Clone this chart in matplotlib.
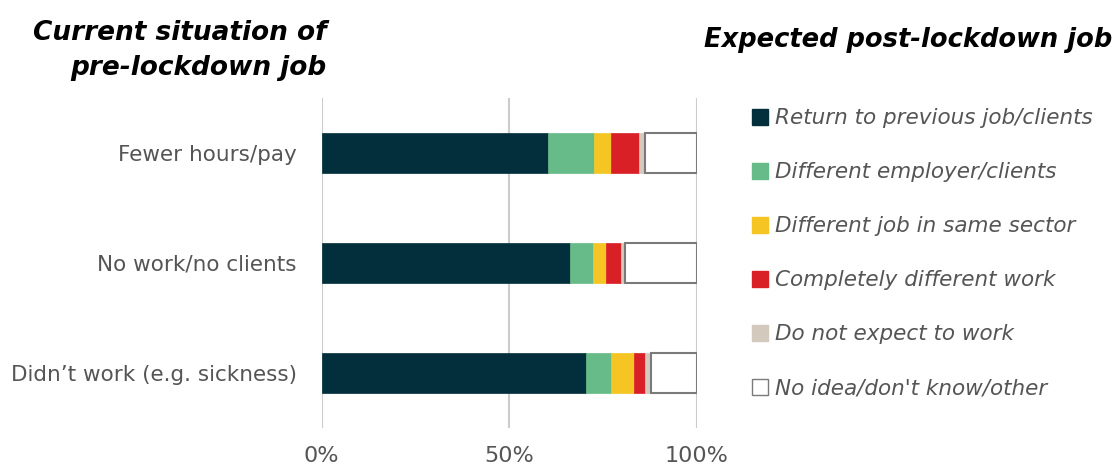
import matplotlib.pyplot as plt
from matplotlib.patches import Patch

# data (percent of each group)
categories = ["Fewer hours/pay", "No work/no clients", "Didn\u2019t work (e.g. sickness)"]
series_names = ["Return to previous job/clients", "Different employer/clients",
                "Different job in same sector", "Completely different work",
                "Do not expect to work", "No idea/don't know/other"]
return_prev = [60.3, 66.2, 70.5]
diff_employer = [12.4, 6.2, 6.7]
diff_job = [4.5, 3.3, 6.0]
completely_diff = [7.3, 4.0, 2.9]
not_expect = [1.8, 1.2, 1.7]
no_idea = [13.7, 19.1, 12.2]
xticks = [0, 50, 100]
xticklabels = ["0%", "50%", "100%"]

colors = ["#022f3b", "#66bb88", "#f5c623", "#d92027", "#d3cabd", "white"]
edges = ["#022f3b", "#66bb88", "#f5c623", "#d92027", "#d3cabd", "#7a7a7a"]

plt.rcParams['font.family'] = ['DejaVu Sans']

fig = plt.figure(figsize=(11.18, 4.68), dpi=100)
ax = fig.add_axes([0.2877, 0.0855, 0.3354, 0.7051])

ypos = list(range(len(categories)))
left = [0.0] * len(categories)
allvals = [return_prev, diff_employer, diff_job, completely_diff, not_expect, no_idea]
for vals, c, ec in zip(allvals, colors, edges):
    lw = 1.5 if c == "white" else 0.5
    ax.barh(ypos, vals, left=left, height=0.36, color=c, edgecolor=ec,
            linewidth=lw, zorder=3)
    left = [l + v for l, v in zip(left, vals)]

ax.set_ylim(2.5, -0.5)
ax.set_xlim(0, 100)
ax.set_yticks(ypos)
ax.set_yticklabels(categories, fontsize=15.5, color="#555555")
ax.set_xticks(xticks)
ax.set_xticklabels(xticklabels, fontsize=16, color="#555555")
ax.tick_params(axis="both", length=0)
ax.tick_params(axis="y", pad=18)
ax.tick_params(axis="x", pad=13)
ax.grid(axis="x", color="#cccccc", linewidth=1.5, zorder=0)
for s in ax.spines.values():
    s.set_visible(False)

handles = [Patch(facecolor=c, edgecolor=ec, linewidth=1.0) for c, ec in zip(colors, edges)]
leg = fig.legend(handles, series_names, loc="upper left", bbox_to_anchor=(0.665, 0.787),
                 frameon=False, prop={"size": 15.5, "style": "italic"},
                 handlelength=0.75, handleheight=0.75, handletextpad=0.3,
                 labelspacing=1.58, borderaxespad=0)
for t in leg.get_texts():
    t.set_color("#555555")

fig.text(0.292, 0.893, "Current situation of\npre-lockdown job", ha="right", va="center",
         fontsize=19, fontweight="bold", style="italic", linespacing=1.45)
fig.text(0.995, 0.915, "Expected post-lockdown job", ha="right", va="center",
         fontsize=18.5, fontweight="bold", style="italic")

fig.savefig("out.png", dpi=100)
